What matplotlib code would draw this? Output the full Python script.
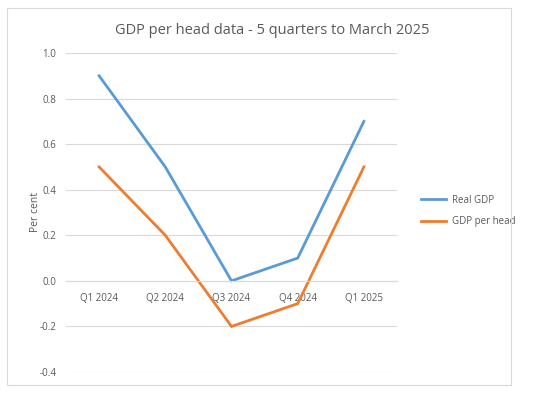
import matplotlib
matplotlib.use("Agg")
import matplotlib.pyplot as plt
from matplotlib.patches import Rectangle

categories = ["Q1 2024", "Q2 2024", "Q3 2024", "Q4 2024", "Q1 2025"]
real_gdp = [0.9, 0.5, 0.0, 0.1, 0.7]
gdp_per_head = [0.5, 0.2, -0.2, -0.1, 0.5]
yticks = [-0.4, -0.2, 0.0, 0.2, 0.4, 0.6, 0.8, 1.0]

plt.rcParams['font.family'] = ['Open Sans', 'DejaVu Sans']
txt = '#595959'

fig = plt.figure(figsize=(5.5, 3.99), dpi=100)
fig.patches.append(Rectangle((7/550, 1-385/399), 504/550, 377/399, transform=fig.transFigure,
                             fill=False, edgecolor='#d9d9d9', linewidth=0.8))
ax = fig.add_axes([66/550, 1-372/399, 331/550, 319/399])
x = list(range(len(categories)))
ax.plot(x, real_gdp, color='#5B9BD5', linewidth=2.0, label='Real GDP', solid_joinstyle='miter')
ax.plot(x, gdp_per_head, color='#ED7D31', linewidth=2.0, label='GDP per head', solid_joinstyle='miter')
ax.set_xlim(-0.5, len(categories)-0.5)
ax.set_ylim(-0.4, 1.0)
ax.set_yticks(yticks)
ax.set_yticklabels([f"{v:.1f}" for v in yticks])
ax.set_xticks(x)
ax.set_xticklabels(categories)
ax.grid(axis='y', color='#d9d9d9', linewidth=0.8)
ax.set_axisbelow(True)
for s in ['top', 'right', 'left']:
    ax.spines[s].set_visible(False)
ax.spines['bottom'].set_position(('data', 0))
ax.spines['bottom'].set_color('#d9d9d9')
ax.spines['bottom'].set_linewidth(0.8)
ax.tick_params(axis='both', length=0, labelsize=7, labelcolor=txt)
ax.tick_params(axis='x', pad=9)
ax.tick_params(axis='y', pad=7)
ax.set_ylabel('Per cent', fontsize=7.5, color=txt, labelpad=-1)
fig.text(272/550, 1-30/399, 'GDP per head data - 5 quarters to March 2025', ha='center', va='center',
         fontsize=10.5, color=txt)
leg = ax.legend(loc='center left', bbox_to_anchor=(412/550, 1-211/399), bbox_transform=fig.transFigure,
                frameon=False, fontsize=7, labelcolor=txt, handlelength=2.6, labelspacing=1.1,
                handletextpad=0.6)
fig.savefig('out.png', dpi=100)
